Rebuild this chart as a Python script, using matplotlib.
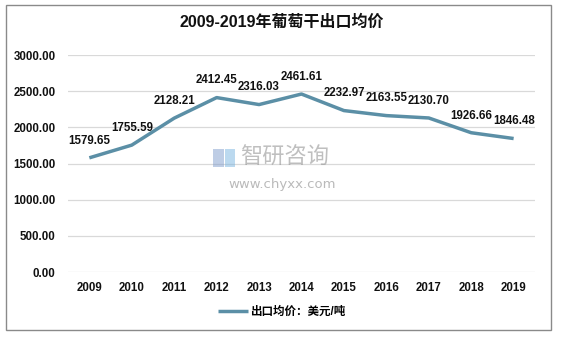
import matplotlib
matplotlib.use("Agg")
import matplotlib.pyplot as plt
from matplotlib.patches import Rectangle

plt.rcParams['font.family'] = ['Liberation Sans', 'Noto Sans CJK SC', 'DejaVu Sans']

years = ["2009", "2010", "2011", "2012", "2013", "2014", "2015", "2016", "2017", "2018", "2019"]
prices = [1579.65, 1755.59, 2128.21, 2412.45, 2316.03, 2461.61, 2232.97, 2163.55, 2130.70, 1926.66, 1846.48]
yticks = [0, 500, 1000, 1500, 2000, 2500, 3000]

line_color = "#5b8fa6"

fig = plt.figure(figsize=(5.63, 3.38), dpi=100)
ax = fig.add_axes([0.121, 0.195, 0.829, 0.642])

x = list(range(len(years)))
ax.plot(x, prices, color=line_color, lw=2.5, solid_capstyle='butt', zorder=3,
        label="出口均价：美元/吨")

for xi, v in zip(x, prices):
    ax.annotate(f"{v:.2f}", (xi, v), xytext=(0, 8), textcoords="offset points",
                ha="center", va="bottom", fontsize=8.3, fontweight="bold", color="#111111", zorder=4)

ax.set_xlim(-0.5, len(years) - 0.5)
ax.set_ylim(0, 3000)
ax.set_yticks(yticks)
ax.set_yticklabels([f"{t:.2f}" for t in yticks])
ax.set_xticks(x)
ax.set_xticklabels(years)
ax.tick_params(axis="both", length=0, labelsize=8.3, colors="#111111")
ax.tick_params(axis="y", pad=9)
ax.tick_params(axis="x", pad=7)
for lab in ax.get_xticklabels() + ax.get_yticklabels():
    lab.set_fontweight("bold")
ax.grid(axis="y", color="#d9d9d9", lw=0.9)
ax.set_axisbelow(True)
for s in ax.spines.values():
    s.set_visible(False)

fig.text(0.5, 0.935, "2009-2019年葡萄干出口均价", ha="center", va="center",
         fontsize=11.5, fontweight="bold", color="#111111")

leg = fig.legend(loc="center", bbox_to_anchor=(0.5, 0.077), frameon=False,
                 prop={"size": 8.3, "weight": "bold"}, handlelength=2.6, handletextpad=0.2)

# watermark
fig.patches.append(Rectangle((0.379, 0.505), 0.018, 0.055, transform=fig.transFigure,
                             facecolor="#7f9ccc", alpha=0.5, edgecolor="none"))
fig.patches.append(Rectangle((0.400, 0.505), 0.018, 0.055, transform=fig.transFigure,
                             facecolor="#79b4e0", alpha=0.5, edgecolor="none"))
fig.text(0.427, 0.535, "智研咨询", ha="left", va="center", fontsize=16,
         color="#8c8c8c", alpha=0.55, family=["Noto Sans CJK SC"])
fig.text(0.502, 0.455, "www.chyxx.com", ha="center", va="center", fontsize=9.5,
         color="#8c8c8c", alpha=0.6, family=["DejaVu Sans"])

fig.patches.append(Rectangle((0.011, 0.024), 0.968, 0.962, transform=fig.transFigure,
                             fill=False, edgecolor="#8a8a8a", lw=1.0))

fig.savefig("out.png", dpi=100)
